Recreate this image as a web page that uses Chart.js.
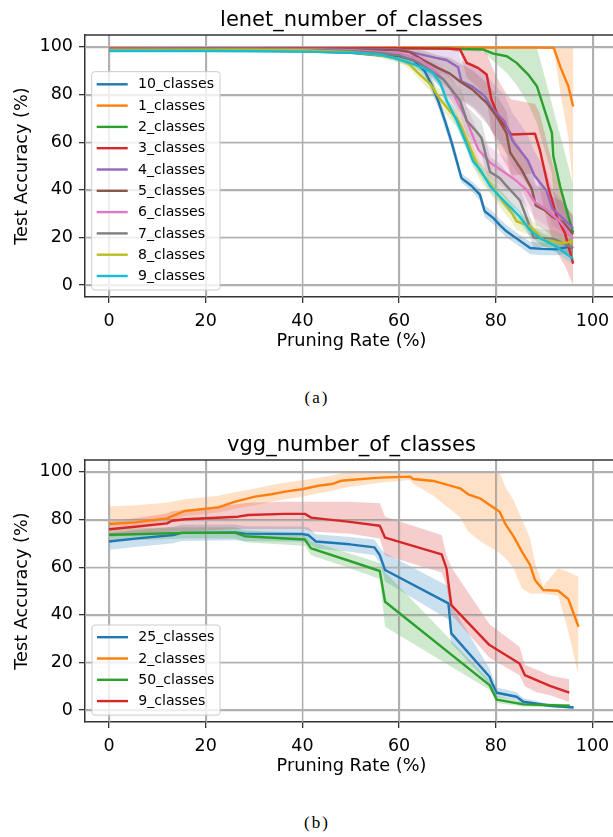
<!DOCTYPE html>
<html><head><meta charset="utf-8">
<script src="https://cdn.jsdelivr.net/npm/chart.js@4.4.1/dist/chart.umd.min.js"></script>
<style>
html,body{margin:0;padding:0;background:#fff;}
body{width:613px;height:837px;overflow:hidden;position:relative;}
.wrap{position:absolute;left:0;width:620px;height:360px;}
.cap{position:absolute;left:2px;width:630px;text-align:center;font-family:'Liberation Serif','DejaVu Serif',serif;font-size:17px;line-height:18px;letter-spacing:2px;color:#000;}
</style></head>
<body>
<div class="wrap" style="top:0"><canvas id="c1" width="620" height="360"></canvas></div>
<div class="cap" style="top:389px">(a)</div>
<div class="wrap" style="top:425px"><canvas id="c2" width="620" height="360"></canvas></div>
<div class="cap" style="top:814px">(b)</div>
<script>
// ---------------- titles / labels ----------------
const lenetTitle = 'lenet_number_of_classes';
const vggTitle = 'vgg_number_of_classes';
const xAxisLabel = 'Pruning Rate (%)';
const yAxisLabel = 'Test Accuracy (%)';
const captionA = '(a)';
const captionB = '(b)';
const lenetLabels = ['10_classes','1_classes','2_classes','3_classes','4_classes','5_classes','6_classes','7_classes','8_classes','9_classes'];
const vggLabels = ['25_classes','2_classes','50_classes','9_classes'];

// ---------------- lenet data ----------------
const lenet10X  = [0,10,20,30,40,50,56,60,62.9,65.3,66.7,68.1,69.5,70.9,72.9,75,76.7,77.7,79.5,80.8,82.2,84.5,87.1,89.5,92.5,94.9,96];
const lenet10Y  = [98.5,98.5,98.5,98.4,98.2,97.5,96.5,96,94.5,89.8,84.2,77.2,68.8,59.6,44.9,41.6,38,31,28.1,25.3,22.6,19.3,15.6,15.2,15,16,15.6];
const lenet10Lo = [98.2,98.2,98.2,98.1,97.8,97,95.8,95,93,87.5,81.5,74.5,66,57,43,39.5,35.5,28.5,25.5,22.8,20,16.8,13,12.5,12.5,13.5,13.5];
const lenet10Hi = [98.8,98.8,98.8,98.7,98.6,98,97.2,97,96,92,87,80,71.5,62.5,47,43.7,40.5,33.5,30.6,27.8,25.2,21.8,18.2,17.8,17.5,18.5,17.8];

const lenet1X  = [0,10,20,30,40,50,60,70,80,88,92,93.4,95,96];
const lenet1Y  = [99.3,99.4,99.5,99.5,99.6,99.6,99.7,99.7,99.7,99.7,99.6,91.3,83.5,75];
const lenet1Lo = [99.1,99.2,99.3,99.3,99.4,99.4,99.5,99.5,99.5,99.4,99.2,80,62,40];
const lenet1Hi = [99.5,99.6,99.7,99.7,99.8,99.8,99.9,99.9,99.9,99.9,99.8,99.8,99.8,99.8];

const lenet2X  = [0,10,20,30,40,50,60,70,77.4,79.5,82.3,84.3,86.7,88.5,90.5,91.6,91.9,93.3,95,96];
const lenet2Y  = [99,99.1,99.2,99.3,99.4,99.4,99.4,99.3,98.9,97.2,96.1,93.3,88.4,83.5,70.8,63.9,54.1,41.5,28.8,22];
const lenet2Lo = [98.8,98.9,99,99.1,99.2,99.2,99.2,99,98,94,89,84,76,68,54,47,38,28,18,10];
const lenet2Hi = [99.2,99.3,99.4,99.5,99.6,99.6,99.6,99.6,99.6,99.6,99.6,99.6,99.6,99.6,84.5,76,73.7,63,50,42];

const lenet3X  = [0,10,20,30,40,50,60,70,72.6,74,76.3,78.1,79.1,80.8,82.3,83.2,88.1,89.1,90.8,92.6,94.3,96];
const lenet3Y  = [99.2,99.3,99.4,99.5,99.5,99.5,99.5,99.3,98.9,93.3,91.2,88.4,77.9,69.4,65.9,63.2,63.6,56.9,41.5,28.8,21.8,9];
const lenet3Lo = [99,99.1,99.2,99.3,99.3,99.3,99.2,98.8,97.5,87,83,78,65,55,50,46,47,40,25,14,8,0];
const lenet3Hi = [99.4,99.5,99.6,99.7,99.7,99.7,99.8,99.8,99.8,99,98.5,97.5,92,85,80,78,76,72,58,45,36,24];

const lenet4X  = [0,10,20,30,40,50,60,64.3,67.4,69.8,72.2,72.9,75.3,77.7,79.3,81.7,83.5,84.6,86.6,88,90.5,91.7,93.9,96];
const lenet4Y  = [99,99.1,99.2,99.2,99.2,99.1,98.9,97,95.5,94.5,91.5,85.5,83.2,79.3,74,69,60.5,57.6,52.4,46,39.5,32,28,23.9];
const lenet4Lo = [98.8,98.9,99,99,99,98.8,98,94,90,88,84,78,75,70,64,58,50,47,42,37,31,25,22,19];
const lenet4Hi = [99.2,99.3,99.4,99.4,99.4,99.4,99.6,99.5,99.5,99.4,98.5,94,93,90,85,80,72,69,63,56,48,40,35,29];

const lenet5X  = [0,10,20,30,40,50,60,62.2,65,68,70.5,72.6,75.3,78.1,80.1,82.2,83,85.3,87.4,88.3,90.1,91.8,93.9,96];
const lenet5Y  = [99,99.1,99.2,99.2,99.1,98.9,98.6,97.8,94.5,91.2,88.8,85.5,81.9,76.5,71,63.9,55.5,48.5,40.5,33.3,31.5,28.5,26.5,21.3];
const lenet5Lo = [98.8,98.9,99,99,98.9,98.5,97.8,96,91,86,82,78,74,68,62,55,47,40,32,25,23,20,18,13];
const lenet5Hi = [99.2,99.3,99.4,99.4,99.3,99.3,99.4,99.4,98.5,96.5,95.5,93,90,85,80,73,64,57,49,42,40,37,35,29];

const lenet6X  = [0,10,20,30,40,50,60,64,68,70.5,73.6,76.4,78.8,81.5,83.8,86.4,88,90.5,93.3,96];
const lenet6Y  = [99,99.1,99.1,99.1,99,98.6,97.5,95,89,83,70.8,56.8,51.5,47.7,44.5,40,35,31.6,26.7,19.5];
const lenet6Lo = [98.8,98.9,98.9,98.9,98.7,98.1,96.5,93,85,77,64,50,45,41,38,33,28,25,21,14];
const lenet6Hi = [99.2,99.3,99.3,99.3,99.3,99.1,98.5,97,93,89,77,64,58,54,51,47,42,38,32,25];

const lenet7X  = [0,10,20,30,40,50,56,60,64,69.2,72.6,74,76,77,78.8,80.8,82.5,85,86.4,87.8,91.9,94,96];
const lenet7Y  = [98.8,98.9,99,99,98.8,98.3,97.5,96.5,93.5,86.3,77.5,69,64.5,62,47.5,45,41,35.5,28,20,19.5,17.5,15.5];
const lenet7Lo = [98.6,98.7,98.8,98.8,98.5,97.8,96.8,95.5,91.5,82,72,63,58,55,41,39,35,30,23,16,16,14,12];
const lenet7Hi = [99,99.1,99.2,99.2,99.1,98.8,98.2,97.5,95.5,90,83,75,71,69,54,51,47,41,33,24,23,21,19];

const lenet8X  = [0,10,20,30,40,50,56,60,62.2,64.3,66.4,68.5,70.5,71.9,73,74.7,76.7,78.8,81.5,83.3,84.3,87.1,89.8,94,96];
const lenet8Y  = [98.6,98.7,98.8,98.8,98.6,97.8,96.5,95,92.6,88.4,84.5,78,73,70.2,66,57.6,48,42.5,35,30.3,26.7,24.6,19,17.6,18.3];
const lenet8Lo = [98.4,98.5,98.6,98.6,98.3,97.2,95.5,93.5,90.5,86,81.5,74.5,69.5,66.5,62,53.5,44,38.5,31,26.5,23,21,16,15,16];
const lenet8Hi = [98.8,98.9,99,99,98.9,98.4,97.5,96.5,94.7,90.8,87.5,81.5,76.5,74,70,61.7,52,46.5,39,34,30.4,28.2,22,20.2,20.6];

const lenet9X  = [0,10,20,30,40,51.9,56,58.8,62.2,64.9,67,68.5,69.9,72,74,75.3,77,78.8,80.8,83.2,84.9,87,89.1,91.9,93.9,96];
const lenet9Y  = [98.3,98.3,98.3,98.2,98,97.5,96.8,95.4,93.3,91.2,89.1,84.9,77.2,68.8,59,52,47.8,41.6,37.2,32.3,28.8,23.2,19.7,16.9,14.1,11];
const lenet9Lo = [98.1,98.1,98.1,98,97.7,97,96,94.3,92,89.5,87,82.5,74.5,66,56.5,49.5,45.3,39.1,34.7,29.8,26.3,20.7,17.2,14.4,11.6,8.5];
const lenet9Hi = [98.5,98.5,98.5,98.4,98.3,98,97.6,96.5,94.6,92.9,91.2,87.3,79.9,71.6,61.5,54.5,50.3,44.1,39.7,34.8,31.3,25.7,22.2,19.4,16.6,13.5];

// ---------------- vgg data ----------------
const vgg25X  = [0,5.4,13.3,15,26.1,28.1,40,41.2,42.8,49.8,54.9,56,57.1,70.2,70.8,78.7,79.4,80.2,84.3,85.7,91.2,96.1];
const vgg25Y  = [70.8,72,73.5,74.4,74.6,74.1,73.9,73.5,70.8,69.6,68.3,65.1,58.8,44.8,32.2,14,10.5,7.3,5.6,3.5,1.8,1.1];
const vgg25Lo = [67.3,68.5,70,71,71.3,71,70.7,70.3,67.8,66.5,65,62,54,38,28,11,8,5.5,4,2.5,1.2,0.6];
const vgg25Hi = [74.3,75.5,77,77.8,77.9,77.2,77.1,76.7,73.8,72.7,71.6,68.2,66,52,44,17.5,13.5,9.5,7.5,5,2.6,1.7];

const vgg2X  = [0,5.4,12,15.7,22.6,26.1,30.2,33.6,36.4,39.9,43.3,46.1,48.1,49.8,56,62.3,62.9,67.1,72.6,74.3,76.7,80.8,81.9,83.7,85.4,87.1,88.1,89.8,92.9,95,97.1];
const vgg2Y  = [78.1,78.8,80.5,83.6,85.1,87.5,89.6,90.6,91.7,92.7,94.2,94.9,96.3,96.6,97.6,98,97,96.2,93.1,90.6,88.9,83.3,78.4,72.8,66.5,60.9,54.6,50.4,50.1,46.6,35];
const vgg2Lo = [77,77.5,79,81.5,83,84.5,86,87.5,88.5,89.5,91,92,93,93.8,95.5,96.6,95,90,81,75,71,66,64,59.5,51,49,49,49,48,33,14.6];
const vgg2Hi = [85.5,86,87,88.5,90,91.5,93,94.5,95.5,96.5,97.5,98.5,99.5,100,100,100,100,100,100,100,100,100,94,88,80,72,62,52,59.5,58,56];

const vgg50X  = [0,5.4,15.7,26.1,28.1,40.5,41.8,49.8,56,57.1,78.7,80.2,85.7,95.3];
const vgg50Y  = [73.6,73.8,74.4,74.4,73,71.6,67.9,62.6,58.4,45.5,10.5,4.4,2.4,1.8];
const vgg50Lo = [71,71.3,72,72,70.5,69,65,59.5,55,35,8.5,3,1.5,1];
const vgg50Hi = [76.2,76.3,76.8,76.8,75.5,74.2,70.8,65.7,61.8,58,12.5,6,3.3,2.5];

const vgg9X  = [0,5.4,12,13,15.7,26.7,28.8,36.4,40.5,41.8,49.8,56,57.1,68.8,69.8,70.8,78.7,84.9,86,88.4,91.2,95.2];
const vgg9Y  = [75.9,77,78.4,79.5,80.1,81.2,81.9,82.4,82.4,80.8,79,77.4,72.4,65.4,59.5,44.1,27.3,19.6,14.7,12.6,10.2,7.3];
const vgg9Lo = [72.8,73.5,74.5,75,75,76,76,76,76,75,74,72,65,57.8,52,40,22,14.6,10,7.5,6.2,3.4];
const vgg9Hi = [79.1,80.5,82.5,83.5,84,86.5,87,87.5,87.5,87.5,87.5,86.8,81.2,73.5,65.1,60,36,26.6,19,17,14.5,12.9];

// ---------------- styling ----------------
const tab10 = ['#1f77b4','#ff7f0e','#2ca02c','#d62728','#9467bd','#8c564b','#e377c2','#7f7f7f','#bcbd22','#17becf'];
const FONT = "'DejaVu Sans', 'Liberation Sans', sans-serif";

function rgba(hex, a) {
  const n = parseInt(hex.slice(1), 16);
  return `rgba(${(n>>16)&255},${(n>>8)&255},${n&255},${a})`;
}
function pts(xs, ys) { return xs.map((x, k) => ({x: x, y: ys[k]})); }

function buildDatasets(series) {
  const ds = [];
  series.forEach((s, i) => {
    ds.push({label: s.label + '_hi', isBand: true, data: pts(s.x, s.hi), fill: '+1',
      backgroundColor: rgba(s.color, 0.23), borderColor: 'rgba(0,0,0,0)', borderWidth: 0,
      pointRadius: 0, order: 1000 - i, tension: 0});
    ds.push({label: s.label + '_lo', isBand: true, data: pts(s.x, s.lo), fill: false,
      borderColor: 'rgba(0,0,0,0)', borderWidth: 0, pointRadius: 0, order: 1000 - i, tension: 0});
  });
  series.forEach((s, i) => {
    ds.push({label: s.label, data: pts(s.x, s.y), fill: false, borderColor: s.color,
      backgroundColor: s.color, borderWidth: 2.4, pointRadius: 0, order: 100 - i,
      tension: 0, borderJoinStyle: 'round', firstLine: i === 0});
  });
  return ds;
}

const gridOverBands = {
  id: 'gridOverBands',
  beforeDatasetDraw(chart, args) {
    const d = chart.data.datasets[args.index];
    if (!d.firstLine) return;
    const ca = chart.chartArea, ctx = chart.ctx;
    ctx.save();
    ctx.beginPath(); ctx.rect(ca.left, ca.top, ca.right - ca.left, ca.bottom - ca.top); ctx.clip();
    ctx.strokeStyle = '#b0b0b0'; ctx.lineWidth = 1.3;
    const sx = chart.scales.x, sy = chart.scales.y;
    sx.ticks.forEach(t => { const p = Math.round(sx.getPixelForValue(t.value)) + 0.5;
      ctx.beginPath(); ctx.moveTo(p, ca.top); ctx.lineTo(p, ca.bottom); ctx.stroke(); });
    sy.ticks.forEach(t => { const p = Math.round(sy.getPixelForValue(t.value)) + 0.5;
      ctx.beginPath(); ctx.moveTo(ca.left, p); ctx.lineTo(ca.right, p); ctx.stroke(); });
    ctx.restore();
  }
};

const frameAndText = {
  id: 'frameAndText',
  afterDraw(chart, args, opts) {
    const ctx = chart.ctx, ca = chart.chartArea;
    ctx.save();
    // top spine
    ctx.strokeStyle = '#333'; ctx.lineWidth = 1.5;
    ctx.beginPath(); ctx.moveTo(ca.left - 0.75, ca.top); ctx.lineTo(ca.right, ca.top); ctx.stroke();
    // title
    ctx.fillStyle = '#000'; ctx.font = '21px ' + FONT;
    ctx.textAlign = 'center'; ctx.textBaseline = 'alphabetic';
    ctx.fillText(opts.title, (ca.left + ca.right) / 2, opts.titleY);
    // legend
    const items = chart.data.datasets.filter(d => !d.isBand);
    const L = opts.legend;
    const h = L.padTop + L.rowH * (items.length - 1) + L.padBottom;
    const r = 3;
    ctx.beginPath();
    ctx.moveTo(L.left + r, L.top);
    ctx.lineTo(L.left + L.width - r, L.top);
    ctx.arcTo(L.left + L.width, L.top, L.left + L.width, L.top + r, r);
    ctx.lineTo(L.left + L.width, L.top + h - r);
    ctx.arcTo(L.left + L.width, L.top + h, L.left + L.width - r, L.top + h, r);
    ctx.lineTo(L.left + r, L.top + h);
    ctx.arcTo(L.left, L.top + h, L.left, L.top + h - r, r);
    ctx.lineTo(L.left, L.top + r);
    ctx.arcTo(L.left, L.top, L.left + r, L.top, r);
    ctx.closePath();
    ctx.fillStyle = 'rgba(255,255,255,0.8)'; ctx.fill();
    ctx.strokeStyle = '#cccccc'; ctx.lineWidth = 1; ctx.stroke();
    // legend font sized so the widest label spans the measured width in the reference
    ctx.font = '14px ' + FONT;
    const widest = Math.max(...items.map(d => ctx.measureText(d.label).width));
    const fs = Math.max(13, Math.min(17, 14 * L.textWidth / widest));
    ctx.font = fs.toFixed(2) + 'px ' + FONT; ctx.textAlign = 'left'; ctx.textBaseline = 'middle';
    items.forEach((d, i) => {
      const cy = L.top + L.padTop + i * L.rowH;
      ctx.strokeStyle = d.borderColor; ctx.lineWidth = 2.4;
      ctx.beginPath(); ctx.moveTo(L.left + 5, cy); ctx.lineTo(L.left + 36, cy); ctx.stroke();
      ctx.fillStyle = '#000';
      ctx.fillText(d.label, L.left + 46.3, cy + 0.5);
    });
    ctx.restore();
  }
};

function makeChart(canvasId, series, title, legend) {
  const tickFont = {family: FONT, size: 17.5};
  const labelFont = {family: FONT, size: 17.7};
  return new Chart(document.getElementById(canvasId), {
    type: 'line',
    data: {datasets: buildDatasets(series)},
    options: {
      responsive: false, animation: false, devicePixelRatio: 1,
      events: [],
      layout: {padding: {top: 35, left: 0, right: 2, bottom: 0}},
      plugins: {
        legend: {display: false}, tooltip: {enabled: false}, title: {display: false},
        filler: {propagate: false},
        frameAndText: {title: title, titleY: 25.7, legend: legend}
      },
      scales: {
        x: {
          type: 'linear', min: -4.96, max: 105.27,
          ticks: {stepSize: 20, includeBounds: false, font: tickFont, color: '#000', padding: 7.5,
                  maxRotation: 0, autoSkip: false},
          grid: {color: '#b0b0b0', lineWidth: 1.3, tickLength: 6, tickColor: '#333', tickWidth: 1.3},
          border: {display: true, color: '#333', width: 1.5},
          title: {display: true, text: xAxisLabel, font: labelFont, color: '#000', padding: {top: 7.7, bottom: 7.7}},
          afterFit: s => { s.height = 63; }
        },
        y: {
          type: 'linear', min: -5, max: 105,
          ticks: {stepSize: 20, includeBounds: false, font: tickFont, color: '#000', padding: 6},
          grid: {color: '#b0b0b0', lineWidth: 1.3, tickLength: 6, tickColor: '#333', tickWidth: 1.3},
          border: {display: true, color: '#333', width: 1.5},
          title: {display: true, text: yAxisLabel, font: labelFont, color: '#000', padding: {top: 11.9, bottom: 11.9}},
          afterFit: s => { s.width = 85; }
        }
      }
    },
    plugins: [gridOverBands, frameAndText]
  });
}

const lenetSeries = [
  {x: lenet10X, y: lenet10Y, lo: lenet10Lo, hi: lenet10Hi},
  {x: lenet1X, y: lenet1Y, lo: lenet1Lo, hi: lenet1Hi},
  {x: lenet2X, y: lenet2Y, lo: lenet2Lo, hi: lenet2Hi},
  {x: lenet3X, y: lenet3Y, lo: lenet3Lo, hi: lenet3Hi},
  {x: lenet4X, y: lenet4Y, lo: lenet4Lo, hi: lenet4Hi},
  {x: lenet5X, y: lenet5Y, lo: lenet5Lo, hi: lenet5Hi},
  {x: lenet6X, y: lenet6Y, lo: lenet6Lo, hi: lenet6Hi},
  {x: lenet7X, y: lenet7Y, lo: lenet7Lo, hi: lenet7Hi},
  {x: lenet8X, y: lenet8Y, lo: lenet8Lo, hi: lenet8Hi},
  {x: lenet9X, y: lenet9Y, lo: lenet9Lo, hi: lenet9Hi}
].map((s, i) => Object.assign(s, {label: lenetLabels[i], color: tab10[i]}));

const vggSeries = [
  {x: vgg25X, y: vgg25Y, lo: vgg25Lo, hi: vgg25Hi},
  {x: vgg2X, y: vgg2Y, lo: vgg2Lo, hi: vgg2Hi},
  {x: vgg50X, y: vgg50Y, lo: vgg50Lo, hi: vgg50Hi},
  {x: vgg9X, y: vgg9Y, lo: vgg9Lo, hi: vgg9Hi}
].map((s, i) => Object.assign(s, {label: vggLabels[i], color: tab10[i]}));

document.querySelectorAll('.cap')[0].textContent = captionA;
document.querySelectorAll('.cap')[1].textContent = captionB;

makeChart('c1', lenetSeries, lenetTitle, {left: 91.7, top: 71.7, width: 128.3, rowH: 21.3, padTop: 12.6, padBottom: 14, textWidth: 76});
makeChart('c2', vggSeries, vggTitle, {left: 92, top: 200, width: 128, rowH: 21.3, padTop: 12.2, padBottom: 14, textWidth: 76});
</script>
</body></html>
